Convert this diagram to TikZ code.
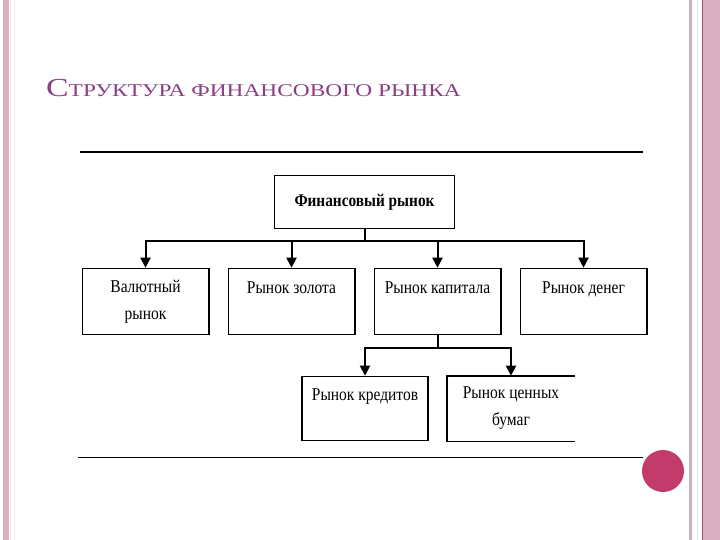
\documentclass[tikz,border=0pt]{standalone}
\usepackage{fontspec}
\setmainfont{Liberation Serif}
\newfontfamily\boxfont[FakeStretch=0.86]{Liberation Serif}
\newfontfamily\titlefont[FakeStretch=1.3]{Liberation Serif}
\usepackage{tikz}
\usetikzlibrary{arrows.meta,positioning}
\definecolor{mktInk}{HTML}{000000}
\definecolor{slideTitle}{HTML}{8B3F83}
\definecolor{slidePink}{HTML}{DAAFC1}
\definecolor{slideGrey}{HTML}{C9B3BD}
\definecolor{slideLine}{HTML}{A0506F}
\definecolor{slideDot}{HTML}{C23B6B}
\tikzset{
  mktbox/.style={draw=mktInk, line width=1.6pt, align=center, inner sep=2pt,
                 minimum width=126.4pt, minimum height=66pt,
                 font=\boxfont\fontsize{18}{27}\selectfont, text=mktInk},
  subbox/.style={mktbox, minimum height=64pt},
  headbox/.style={mktbox, minimum width=180pt, minimum height=53pt,
                  font=\boxfont\bfseries\fontsize{17.8}{20}\selectfont},
  mktarr/.style={-{Triangle[length=10pt,width=10pt]}, line width=2pt, draw=mktInk},
  mktrule/.style={line width=1.2pt, draw=mktInk},
  slidetitle/.style={font=\titlefont\fontsize{18}{18}\selectfont, text=slideTitle,
                     inner sep=0pt, anchor=base west},
}
\begin{document}
\begin{tikzpicture}[x=1pt, y=-1pt]
  \useasboundingbox (0,0) rectangle (720,540);
  % slide frame
  \fill[slidePink] (3,0) rectangle (9,540);
  \draw[slidePink!35, line width=1pt] (10.5,0) -- (10.5,540);
  \draw[slidePink!25, line width=1pt] (14.5,0) -- (14.5,540);
  \fill[slideGrey] (689,0) rectangle (692,540);
  \draw[slidePink!40, line width=1pt] (697.5,0) -- (697.5,540);
  \fill[slidePink] (702,0) rectangle (720,540);
  \draw[slideLine, line width=1pt] (702.5,0) -- (702.5,540);
  \fill[slideDot] (663,471) circle (21pt);
  \node[slidetitle] (title) at (46,97)
    {{\fontsize{26}{26}\selectfont С}ТРУКТУРА ФИНАНСОВОГО РЫНКА};
  % rules
  \draw[mktrule] (80,152) -- (643,152);
  \draw[mktrule] (78,457.5) -- (643,457.5);
  % boxes
  \node[headbox] (fin) at (364.5,202) {Финансовый рынок};
  \node[mktbox] (val) at (145.5,301.5) {Валютный\\рынок};
  \node[mktbox, right=18pt of val] (gold) {Рынок золота\\\phantom{Р}};
  \node[mktbox, right=18pt of gold] (cap) {Рынок капитала\\\phantom{Р}};
  \node[mktbox, right=18pt of cap] (money) {Рынок денег\\\phantom{Р}};
  \node[subbox] (cred) at (365,408.5) {Рынок кредитов\\\phantom{Р}};
  \node[subbox, draw=none, right=18pt of cred] (sec) {Рынок ценных\\бумаг};
  \draw[line width=1.6pt] (sec.north east) -- (sec.north west)
    -- (sec.south west) -- (sec.south east);
  % connectors
  \foreach \m in {val,gold,cap,money}
    \draw[mktarr] (fin.south) -- ++(0,12) -| (\m.north);
  \foreach \m in {cred,sec}
    \draw[mktarr] (cap.south) -- ++(0,13) -| (\m.north);
\end{tikzpicture}
\end{document}
